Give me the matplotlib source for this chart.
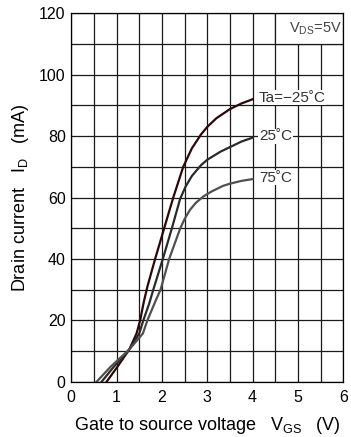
import matplotlib
matplotlib.use("Agg")
import matplotlib.pyplot as plt
from matplotlib.patches import Rectangle
from matplotlib.ticker import MultipleLocator

plt.rcParams['font.family'] = ['Liberation Sans', 'DejaVu Sans']
plt.rcParams['mathtext.default'] = 'regular'

# transfer characteristics (VGS in V, ID in mA)
vgs_m25 = [0.78, 1.02, 1.28, 1.44, 1.52, 1.60, 1.68, 1.85, 2.05, 2.25, 2.47, 2.66, 2.86, 3.0, 3.2, 3.5, 3.75, 4.0]
id_m25 = [0, 4.9, 10.5, 15.7, 20, 26, 31, 40, 50, 60, 70, 76, 80.5, 83.0, 85.8, 88.8, 90.6, 92.0]

vgs_25 = [0.67, 0.94, 1.28, 1.50, 1.59, 1.72, 1.81, 2.02, 2.22, 2.40, 2.52, 2.66, 2.86, 3.0, 3.3, 3.5, 3.75, 4.0]
id_25 = [0, 4.9, 10.5, 15.7, 20, 25.5, 30, 40, 50, 59.5, 63.5, 67, 70.5, 72.3, 75, 76.4, 78.2, 79.5]

vgs_75 = [0.56, 0.87, 1.28, 1.58, 1.68, 1.85, 1.97, 2.16, 2.40, 2.50, 2.62, 2.75, 2.92, 3.1, 3.35, 3.5, 3.75, 4.0]
id_75 = [0, 4.9, 10.5, 15.7, 20, 26, 30, 40, 49.8, 53, 56, 58.3, 60.4, 62, 63.8, 64.5, 65.4, 66.0]

curve_labels = ["Ta=\u221225\u02daC", "25\u02daC", "75\u02daC"]

fig = plt.figure(figsize=(3.51, 4.37), dpi=100)
ax = fig.add_axes([0.203, 0.1265, 0.775, 0.8431])

ax.set_xlim(0, 6)
ax.set_ylim(0, 120)
ax.xaxis.set_major_locator(MultipleLocator(1))
ax.xaxis.set_minor_locator(MultipleLocator(0.5))
ax.yaxis.set_major_locator(MultipleLocator(20))
ax.yaxis.set_minor_locator(MultipleLocator(10))
ax.grid(which='both', color='#1a1a1a', linewidth=0.9)
ax.set_axisbelow(True)
ax.tick_params(which='both', length=0, labelsize=11.5)
ax.tick_params(axis='x', pad=6)
ax.tick_params(axis='y', pad=4)
for sp in ax.spines.values():
    sp.set_linewidth(0.9)

# white box for the VDS condition
ax.add_patch(Rectangle((4.5, 110), 1.5, 10, facecolor='white', edgecolor='#1a1a1a',
                       linewidth=0.9, zorder=1))
ax.text(5.97, 115, "V$_{DS}$=5V", ha='right', va='center', fontsize=10.5, color='#444444', zorder=3)

ax.plot(vgs_m25, id_m25, color='#2a0808', linewidth=1.6, zorder=2)
ax.plot(vgs_25, id_25, color='#2a2a2a', linewidth=1.6, zorder=2)
ax.plot(vgs_75, id_75, color='#505050', linewidth=1.6, zorder=2)

ends = [id_m25[-1], id_25[-1], id_75[-1]]
for lab, yv in zip(curve_labels, ends):
    ax.text(4.14, yv + 0.5, lab, ha='left', va='center', fontsize=11, color='#333333',
            bbox=dict(facecolor='white', edgecolor='none', pad=0.3), zorder=3)

ax.set_xlabel("Gate to source voltage   V$_{GS}$   (V)", fontsize=13, labelpad=7)
ax.set_ylabel("Drain current   I$_{D}$   (mA)", fontsize=13, labelpad=6)

fig.savefig("out.png", dpi=100)
